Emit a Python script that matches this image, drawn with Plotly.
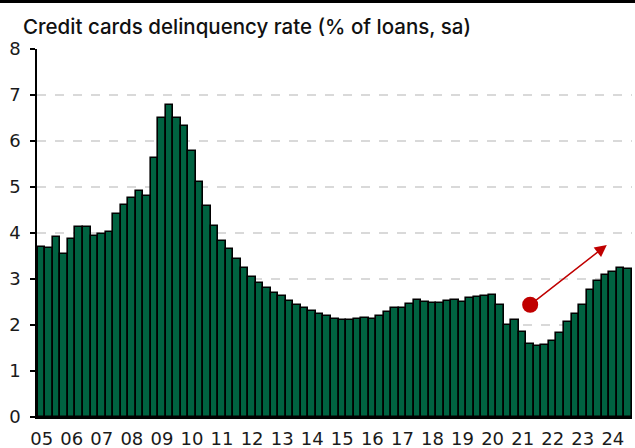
import plotly.graph_objects as go

years = list(range(2005, 2025))
quarters = [f"{y}Q{q}" for y in years for q in range(1, 5)][:79]
values = [3.70, 3.68, 3.91, 3.54, 3.87, 4.13, 4.12, 3.94, 3.98, 4.02, 4.41, 4.60,
          4.77, 4.91, 4.80, 5.64, 6.51, 6.78, 6.49, 6.33, 5.78, 5.10, 4.58, 4.15,
          3.82, 3.65, 3.43, 3.25, 3.05, 2.91, 2.81, 2.70, 2.63, 2.53, 2.43, 2.37,
          2.30, 2.25, 2.19, 2.14, 2.10, 2.11, 2.14, 2.15, 2.13, 2.20, 2.29, 2.36,
          2.38, 2.46, 2.54, 2.49, 2.47, 2.48, 2.53, 2.55, 2.51, 2.59, 2.61, 2.62,
          2.65, 2.44, 2.00, 2.11, 1.85, 1.59, 1.54, 1.57, 1.66, 1.83, 2.07, 2.25,
          2.44, 2.76, 2.96, 3.09, 3.15, 3.24, 3.22]
tick_labels = [f"{y % 100:02d}" for y in years]

# annotation: dot and arrow
dot_q, dot_val = "2021Q2", 2.44
arrow_tip_pos, arrow_tip_val = 75.2, 3.74

xpos = list(range(len(quarters)))
tickvals = [quarters.index(f"{y}Q1") for y in years]
dot_x = quarters.index(dot_q)

fig = go.Figure()
fig.add_trace(go.Bar(
    x=xpos, y=values,
    marker=dict(color="#006341", line=dict(color="#000000", width=1.6)),
    hoverinfo="skip",
))
fig.add_trace(go.Scatter(
    x=[dot_x], y=[dot_val], mode="markers",
    marker=dict(color="#C00000", size=16, line=dict(width=0)),
    hoverinfo="skip",
))
fig.add_annotation(
    x=arrow_tip_pos, y=arrow_tip_val, ax=dot_x, ay=dot_val,
    xref="x", yref="y", axref="x", ayref="y",
    showarrow=True, arrowhead=2, arrowsize=1.6, arrowwidth=1.5,
    arrowcolor="#C00000", text="",
)

top_y = 1 + (49 - 1.5) / 368
fig.add_shape(type="line", xref="paper", yref="paper", layer="above",
              x0=-0.07, x1=1.01, y0=top_y, y1=top_y,
              line=dict(color="#000000", width=3))

tick_font = dict(family="DejaVu Sans, sans-serif", size=18, color="#1a1a1a")

fig.update_layout(
    width=635, height=448,
    margin=dict(l=37, r=3, t=49, b=31, autoexpand=False),
    plot_bgcolor="white", paper_bgcolor="white",
    showlegend=False, bargap=0.0,
    font=dict(family="Inter, Open Sans, sans-serif", color="#1a1a1a", size=17),
    title=dict(text="Credit cards delinquency rate (% of loans, sa)",
               x=23 / 635, xanchor="left", y=1 - 27 / 448, yanchor="middle",
               font=dict(size=20.5, color="#111111", weight=500)),
)
fig.update_xaxes(
    range=[-0.62, 78.55], tickmode="array", tickvals=tickvals, ticktext=tick_labels,
    showgrid=False, showline=True, linecolor="#000000", linewidth=2,
    ticks="", tickfont=tick_font, zeroline=False, ticklabelstandoff=4,
    automargin=False,
)
fig.update_yaxes(
    range=[0, 8], dtick=1, showgrid=True, gridcolor="#d9d9d9", griddash="dash",
    gridwidth=1.5, showline=True, linecolor="#000000", linewidth=1.5,
    ticks="outside", ticklen=5, tickcolor="#000000", tickwidth=1.5,
    tickfont=tick_font, zeroline=False, ticklabelstandoff=6, automargin=False,
)

fig.write_html("out.html", config={"displayModeBar": False},
               post_script="document.body.style.margin='0';document.body.style.overflow='hidden';")
